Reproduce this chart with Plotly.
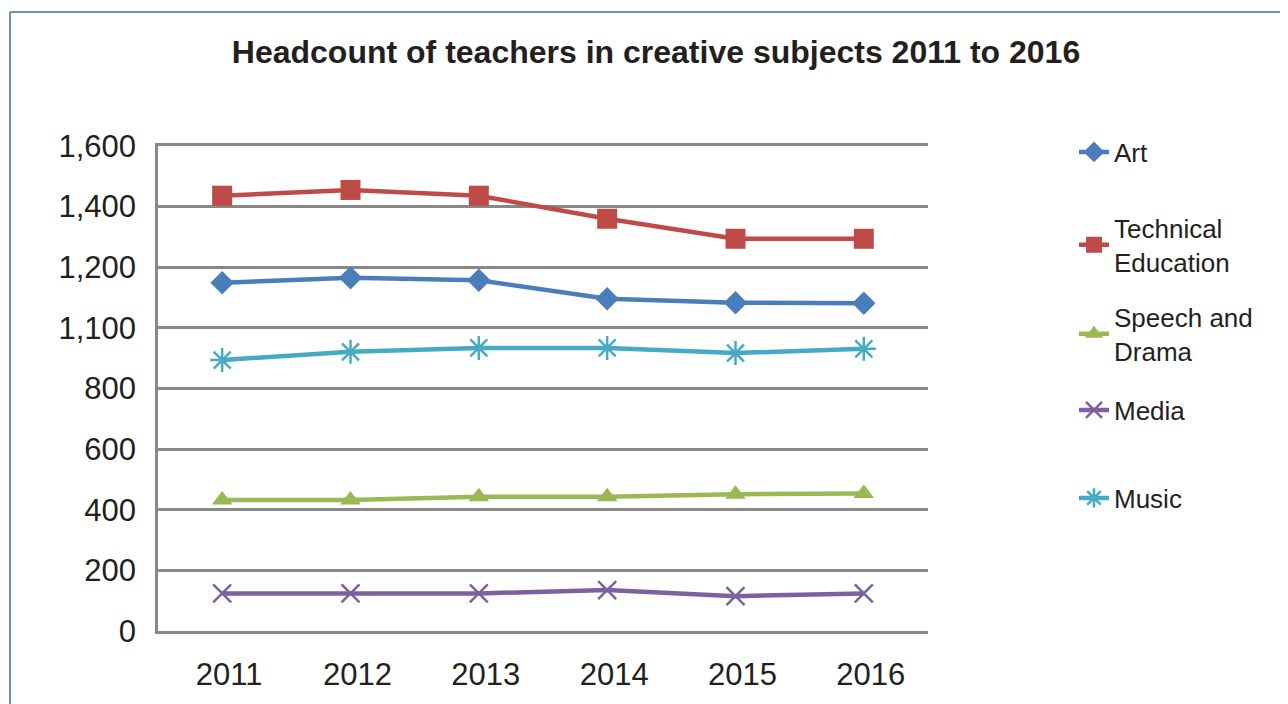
import plotly.graph_objects as go

years = ["2011", "2012", "2013", "2014", "2015", "2016"]
art = [1149, 1165, 1157, 1096, 1083, 1081]
technical = [1436, 1455, 1436, 1360, 1294, 1294]
speech = [432, 432, 443, 443, 451, 454]
media = [124, 124, 124, 135, 115, 124]
music = [894, 921, 934, 934, 917, 931]

y_tickvals = [0, 200, 400, 600, 800, 1000, 1200, 1400, 1600]
y_ticktext = ["0", "200", "400", "600", "800", "1,100", "1,200", "1,400", "1,600"]

series = [
    ("Art", art, "#4a7ebb", dict(symbol="diamond", size=18)),
    ("Technical<br>Education", technical, "#be4b48", dict(symbol="square", size=20)),
    ("Speech and<br>Drama", speech, "#98b954", dict(symbol="triangle-up", size=18)),
    ("Media", media, "#7d60a0", dict(symbol="x-thin-open", size=18, line=dict(width=2.5))),
    ("Music", music, "#46aac5", dict(symbol="asterisk-open", size=20, line=dict(width=2.5))),
]

# figure is placed at (8, 8) in the page, so work in page coords minus 8
W, H = 1280, 696
L, R, T, B = 150, 920, 138, 623
PW, PH = R - L, B - T

legend_centers = [144, 237, 326, 402, 490]
legend_names = ["legend", "legend2", "legend3", "legend4", "legend5"]

font_family = "Liberation Sans, Arial, Helvetica, sans-serif"

fig = go.Figure()
for (name, vals, color, mk), lg in zip(series, legend_names):
    marker = dict(color=color, **mk)
    if "line" in marker:
        marker["line"]["color"] = color
    fig.add_trace(go.Scatter(
        x=years, y=vals, name=name, mode="lines+markers",
        line=dict(color=color, width=4.5),
        marker=marker,
        legend=lg,
    ))

legend_x = (1066 - L) / PW
legend_layout = {}
for lg, yc in zip(legend_names, legend_centers):
    legend_layout[lg] = dict(
        x=legend_x, xanchor="left",
        y=(B - yc) / PH, yanchor="middle",
        font=dict(size=26, color="#231f20"),
        bgcolor="rgba(0,0,0,0)",
    )

fx = lambda px: (px - L) / PW
fy = lambda py: (B - py) / PH

fig.update_layout(
    width=W, height=H,
    margin=dict(l=L, r=W - R, t=T, b=H - B),
    paper_bgcolor="white", plot_bgcolor="white",
    font=dict(family=font_family, color="#231f20"),
    title=dict(
        text="<b>Headcount of teachers in creative subjects 2011 to 2016</b>",
        x=648 / W, xanchor="center", y=1 - 44 / H, yanchor="middle",
        font=dict(size=32, color="#231f20"),
    ),
    showlegend=True,
    xaxis=dict(
        type="category", range=[-0.5, 5.5],
        showgrid=False, zeroline=False,
        showline=True, mirror=True, linecolor="#888888", linewidth=2.5,
        ticks="", tickfont=dict(size=31),
        ticklabelstandoff=14, ticklabelshift=7,
    ),
    yaxis=dict(
        range=[0, 1600],
        tickvals=y_tickvals, ticktext=y_ticktext,
        showgrid=True, gridcolor="#888888", gridwidth=2.5,
        showline=True, linecolor="#888888", linewidth=2.5,
        zeroline=True, zerolinecolor="#888888", zerolinewidth=2.5,
        ticks="", tickfont=dict(size=31),
        ticklabelstandoff=13,
    ),
    shapes=[
        dict(type="line", xref="paper", yref="paper",
             x0=fx(2), x1=fx(2), y0=fy(H + 20), y1=fy(4),
             line=dict(color="#3d6ca8", width=1.5), layer="below"),
        dict(type="line", xref="paper", yref="paper",
             x0=fx(2), x1=fx(W + 20), y0=fy(4), y1=fy(4),
             line=dict(color="#3d6ca8", width=1.5), layer="below"),
    ],
    **legend_layout,
)

fig.write_html("out.html")
